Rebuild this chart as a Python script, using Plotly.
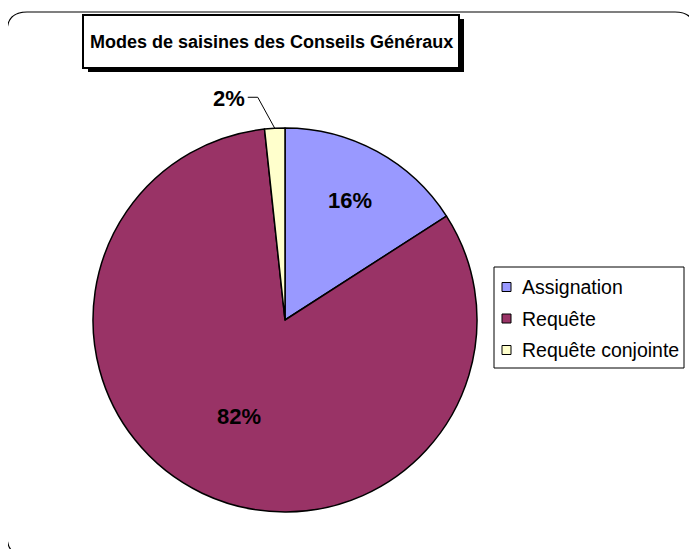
import math
import plotly.graph_objects as go

# page body has an 8px margin: figure origin sits at (8, 8) in the window
OX, OY = 8, 8
W, H = 697 - OX, 549 - OY

# ---- data ----
categories = ["Assignation", "Requête", "Requête conjointe"]
values = [15.9, 82.4, 1.7]
colors = ["#9999FF", "#993366", "#FFFFCC"]
title_text = "Modes de saisines des Conseils Généraux"

# ---- geometry (window pixels) ----
CX, CY, R = 285, 320, 192


def px(x):
    return (x - OX) / W


def py(y):
    return 1 - (y - OY) / H


fig = go.Figure()
fig.add_trace(go.Pie(
    labels=categories,
    values=values,
    sort=False,
    direction="clockwise",
    rotation=0,
    marker=dict(colors=colors, line=dict(color="black", width=1.5)),
    textinfo="none",
    hoverinfo="label+percent",
    showlegend=False,
    domain=dict(x=[px(CX - R), px(CX + R)], y=[py(CY + R), py(CY - R)]),
))

# percentage labels computed from the data
total = sum(values)
cum = 0
annotations = []
shapes = []
label_font = dict(family="Liberation Sans, Arial, sans-serif", size=22, color="black")
radial = [0.71, 0.56, None]
for i, v in enumerate(values):
    a0 = cum / total * 360
    cum += v
    a1 = cum / total * 360
    mid = math.radians((a0 + a1) / 2)
    pct = f"{round(v / total * 100)}%"
    if radial[i] is not None:
        rr = radial[i] * R
        x = CX + rr * math.sin(mid)
        y = CY - rr * math.cos(mid)
        annotations.append(dict(x=px(x), y=py(y), xref="paper", yref="paper",
                                text=f"<b>{pct}</b>", showarrow=False, font=label_font,
                                xanchor="center", yanchor="middle"))
    else:
        # outside label with leader line
        ex = CX + R * math.sin(mid)
        ey = CY - R * math.cos(mid)
        elbow_x, elbow_y = ex - 17, ey - 31
        end_x = elbow_x - 10
        shapes.append(dict(type="path", xref="paper", yref="paper",
                           path=f"M {px(ex)} {py(ey)} L {px(elbow_x)} {py(elbow_y)} L {px(end_x)} {py(elbow_y)}",
                           line=dict(color="black", width=1)))
        annotations.append(dict(x=px(end_x - 1), y=py(elbow_y + 1), xref="paper", yref="paper",
                                text=f"<b>{pct}</b>", showarrow=False, font=label_font,
                                xanchor="right", yanchor="middle"))

# outer rounded frame
fx0, fy0, fx1, fy1, rad = 7, 12, 695, 556, 20
frame_path = (
    f"M {px(fx0 + rad)} {py(fy0)} L {px(fx1 - rad)} {py(fy0)} "
    f"Q {px(fx1)} {py(fy0)} {px(fx1)} {py(fy0 + rad)} "
    f"L {px(fx1)} {py(fy1 - rad)} Q {px(fx1)} {py(fy1)} {px(fx1 - rad)} {py(fy1)} "
    f"L {px(fx0 + rad)} {py(fy1)} Q {px(fx0)} {py(fy1)} {px(fx0)} {py(fy1 - rad)} "
    f"L {px(fx0)} {py(fy0 + rad)} Q {px(fx0)} {py(fy0)} {px(fx0 + rad)} {py(fy0)} Z"
)
shapes.insert(0, dict(type="path", xref="paper", yref="paper", path=frame_path,
                      line=dict(color="black", width=1.2), layer="below"))

# title box with shadow
tx0, ty0, tx1, ty1 = 83, 15, 459, 68
shapes.append(dict(type="rect", xref="paper", yref="paper",
                   x0=px(tx0 + 5), x1=px(tx1 + 5), y0=py(ty1 + 4), y1=py(ty0 + 4),
                   fillcolor="black", line=dict(width=0)))
shapes.append(dict(type="rect", xref="paper", yref="paper",
                   x0=px(tx0), x1=px(tx1), y0=py(ty1), y1=py(ty0),
                   fillcolor="white", line=dict(color="black", width=2)))
annotations.append(dict(x=px((tx0 + tx1) / 2), y=py((ty0 + ty1) / 2), xref="paper", yref="paper",
                        text=f"<b>{title_text}</b>", showarrow=False,
                        font=dict(family="Liberation Sans, Arial, sans-serif",
                                  size=18, color="black"),
                        xanchor="center", yanchor="middle"))

# legend box (drawn from categories / colors)
lx0, ly0, lx1, ly1 = 494, 267, 684, 368
shapes.append(dict(type="rect", xref="paper", yref="paper",
                   x0=px(lx0), x1=px(lx1), y0=py(ly1), y1=py(ly0),
                   fillcolor="white", line=dict(color="black", width=1)))
item_y0, item_step = 287, 31.5
for i, (cat, col) in enumerate(zip(categories, colors)):
    yc = item_y0 + i * item_step
    shapes.append(dict(type="rect", xref="paper", yref="paper",
                       x0=px(502), x1=px(511), y0=py(yc + 4.5), y1=py(yc - 4.5),
                       fillcolor=col, line=dict(color="black", width=1)))
    annotations.append(dict(x=px(520), y=py(yc), xref="paper", yref="paper",
                            text=cat, showarrow=False, xanchor="left", yanchor="middle",
                            font=dict(family="Liberation Sans, Arial, sans-serif", size=19.5, color="black")))

fig.update_layout(
    width=W, height=H, autosize=False,
    margin=dict(l=0, r=0, t=0, b=0),
    paper_bgcolor="white", plot_bgcolor="white",
    showlegend=False,
    shapes=shapes,
    annotations=annotations,
)

fig.write_html("out.html")
